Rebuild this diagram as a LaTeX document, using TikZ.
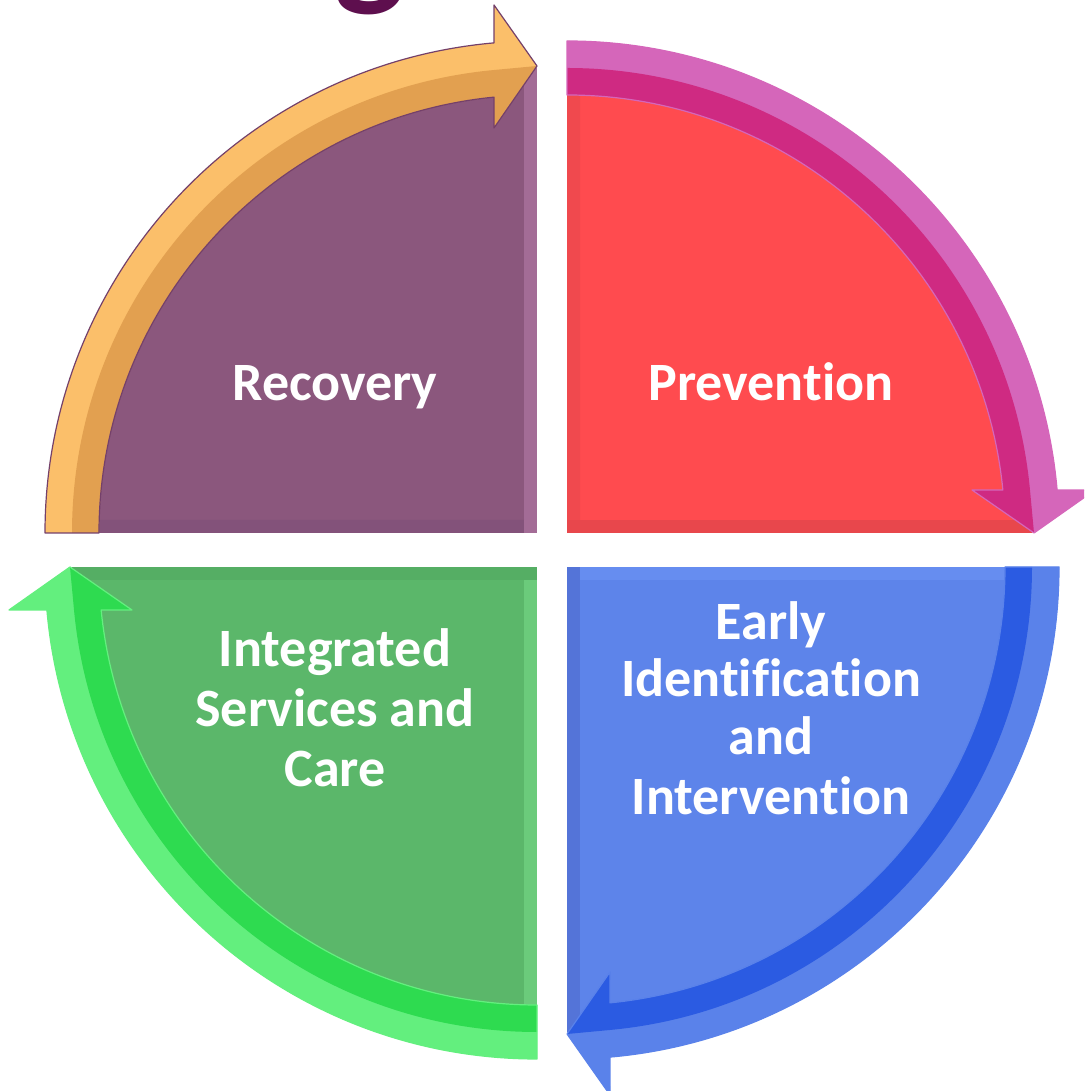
\documentclass[tikz,border=0pt]{standalone}
\usepackage{fontspec}
\setmainfont{Carlito}[Ligatures={NoCommon}]
\definecolor{qpurple}{HTML}{8B577D}
\definecolor{qpurpleA}{HTML}{A36C96}
\definecolor{qpurpleB}{HTML}{83527A}
\definecolor{qred}{HTML}{FF4B4F}
\definecolor{qredA}{HTML}{E8474C}
\definecolor{qredB}{HTML}{F0494E}
\definecolor{qblue}{HTML}{5D84EA}
\definecolor{qblueA}{HTML}{5474D8}
\definecolor{qblueB}{HTML}{668DF0}
\definecolor{qgreen}{HTML}{5BB76A}
\definecolor{qgreenA}{HTML}{55AE64}
\definecolor{qgreenB}{HTML}{6BCB7B}
\definecolor{aorangeL}{HTML}{FBBF6A}
\definecolor{aorangeD}{HTML}{E2A050}
\definecolor{amagL}{HTML}{D566BA}
\definecolor{amagD}{HTML}{CF2A82}
\definecolor{ablueL}{HTML}{5A82EA}
\definecolor{ablueD}{HTML}{2B5BE2}
\definecolor{agreenL}{HTML}{63EF7E}
\definecolor{agreenD}{HTML}{2EDB50}
\definecolor{edgepurple}{HTML}{74406A}
\definecolor{titlepurple}{HTML}{5E0F4E}
\tikzset{
  labeltext/.style={text=white, font=\fontsize{54}{58}\selectfont\bfseries, inner sep=0pt, anchor=base},
}
% #1 shift, #2 rotation, #3 fill, #4 strip at head edge, #5 strip at tail edge, #6 arrow light, #7 arrow dark, #8 outline
\newcommand{\quadpart}[8]{%
  \begin{scope}[shift={#1}, rotate=#2]
    \begin{scope}
      \clip (0,0) -- (180:465) arc[start angle=180, end angle=90, radius=465] -- cycle;
      \fill[#3] (-470,0) rectangle (0,470);
      \fill[#4] (-13,0) rectangle (0,470);
      \fill[#5] (-470,0) -- (-13,13) -- (-470,13) -- cycle;
      \fill[#5] (-470,0) rectangle (-13,13);
    \end{scope}
    \fill[#6]
      (180:492) arc[start angle=180, end angle=95.01, radius=492]
      -- (-43,528) -- (0,467) -- (-43,405)
      -- (95.63:438) arc[start angle=95.63, end angle=180, radius=438] -- cycle;
    \fill[#7]
      (180:465) arc[start angle=180, end angle=95.31, radius=465]
      -- (0,467) -- (-43,405)
      -- (95.63:438) arc[start angle=95.63, end angle=180, radius=438] -- cycle;
    \draw[#8, line width=1.2pt, line join=round]
      (180:492) arc[start angle=180, end angle=95.01, radius=492]
      -- (-43,528) -- (0,467) -- (-43,405)
      -- (95.63:438) arc[start angle=95.63, end angle=180, radius=438] -- cycle;
  \end{scope}}
\begin{document}
\begin{tikzpicture}[x=1pt, y=1pt]
  \useasboundingbox (0,0) rectangle (1084,1091);
  \clip (0,0) rectangle (1084,1091);
  \fill[white] (0,0) rectangle (1084,1091);
  % partial title letter, cut by the top edge as in the source
  \node[text=titlepurple, font=\fontsize{150}{150}\selectfont\bfseries, inner sep=0pt, anchor=base] (title) at (370,1101) {g};
  % quadrants with arrows
  \quadpart{(537,558)}{0}{qpurple}{qpurpleA}{qpurpleB}{aorangeL}{aorangeD}{edgepurple}
  \quadpart{(567,558)}{-90}{qred}{qredA}{qredB}{amagL}{amagD}{amagL}
  \quadpart{(567,524)}{-180}{qblue}{qblueA}{qblueB}{ablueL}{ablueD}{ablueL}
  \quadpart{(537,524)}{90}{qgreen}{qgreenA}{qgreenB}{agreenL}{agreenD}{agreenL}
  % labels
  \node[labeltext] (recovery) at (335,690) {Recovery};
  \node[labeltext] (prevention) at (771,690) {Prevention};
  \node[labeltext] (isc1) at (335,424) {Integrated};
  \node[labeltext] (isc2) at (335,364) {Services and};
  \node[labeltext] (isc3) at (335,304) {Care};
  \node[labeltext] (eii1) at (771,451) {Early};
  \node[labeltext] (eii2) at (771,394) {Identification};
  \node[labeltext] (eii3) at (771,336) {and};
  \node[labeltext] (eii4) at (771,276) {Intervention};
\end{tikzpicture}
\end{document}
